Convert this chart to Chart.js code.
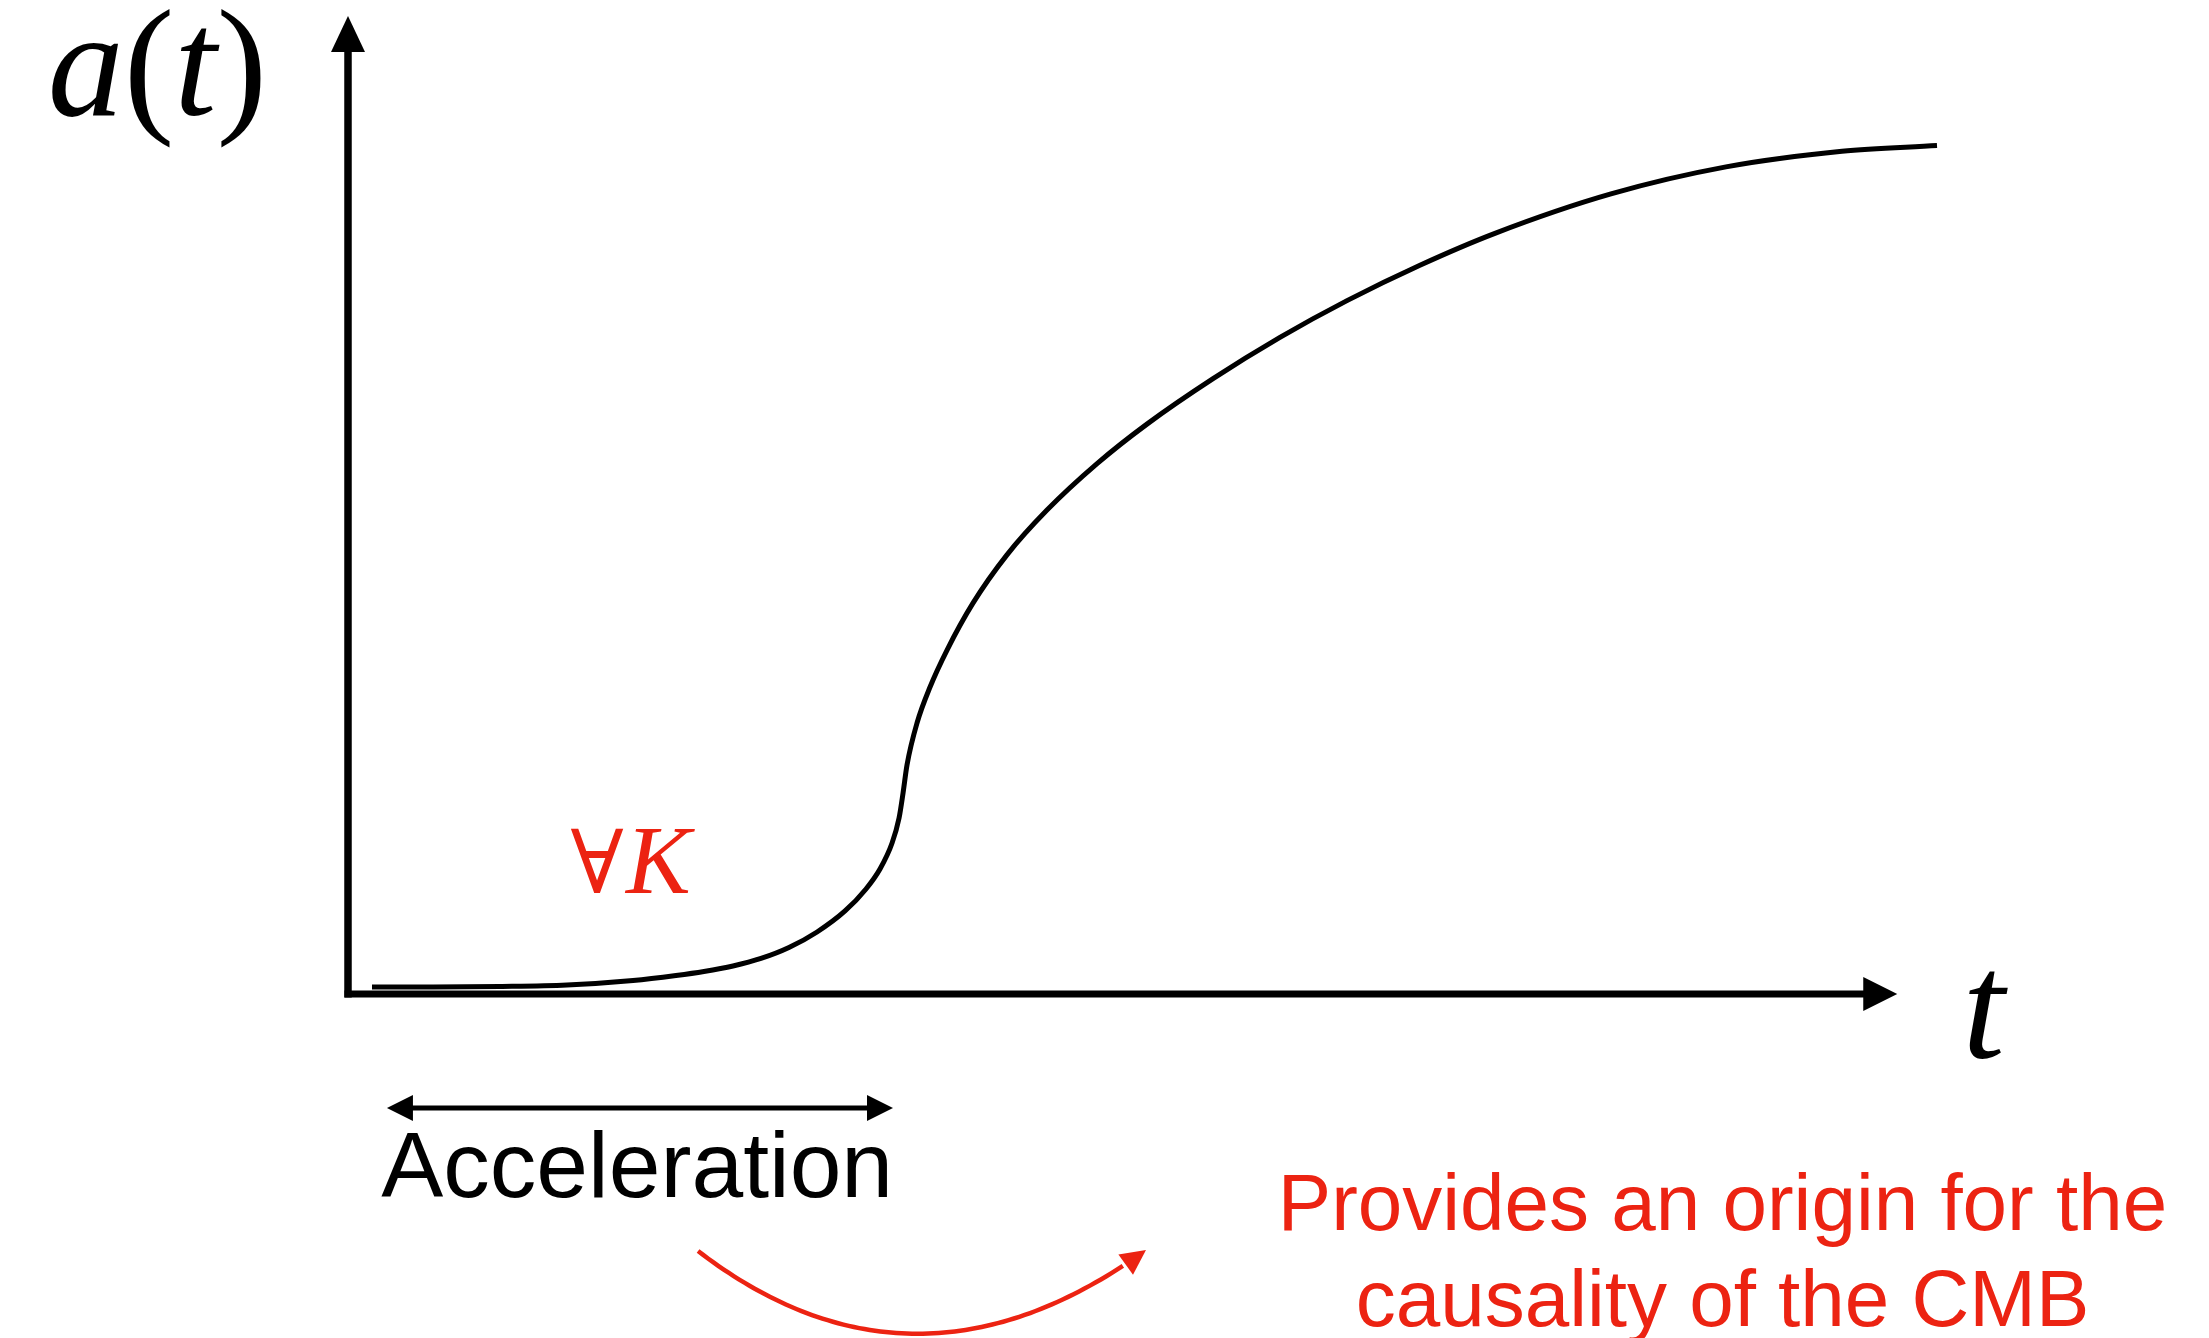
<!DOCTYPE html>
<html>
<head>
<meta charset="utf-8">
<title>a(t)</title>
<script src="https://cdn.jsdelivr.net/npm/chart.js@4/dist/chart.umd.min.js"></script>
<style>
  html, body { margin: 0; padding: 0; background: #ffffff; }
  canvas { display: block; }
</style>
</head>
<body>
<canvas id="chart" width="2209" height="1338"></canvas>
<script>
// Scale factor a(t) against time t (arbitrary units, axes run 0..100)
const tValues = [1.51, 5.35, 9.57, 13.78, 17.94, 20.64, 22.40, 24.23, 25.99, 27.75, 29.52, 31.28,
  32.60, 33.48, 34.24, 34.68, 34.93, 35.18, 35.81, 36.63, 37.70, 39.33, 41.47, 43.99, 47.14,
  50.28, 54.44, 58.65, 62.87, 67.46, 72.18, 79.48, 86.72, 94.02, 100.0];
const aValues = [0.72, 0.72, 0.77, 0.92, 1.38, 1.89, 2.30, 2.86, 3.63, 4.75, 6.34, 8.49,
  10.74, 12.78, 15.44, 18.00, 20.55, 23.42, 27.71, 31.39, 35.17, 39.96, 44.90, 49.48, 54.23,
  58.27, 62.92, 67.14, 70.90, 74.52, 77.78, 81.81, 84.57, 86.17, 86.76];

// Span of the accelerating phase along t
const accelerationSpan = [2.45, 34.3];

// Texts
const yTitleParts = [['a', true], ['(', false], ['t', true], [')', false]];
const xTitle = 't';
const curvatureLabel = ['\u2200', 'K'];
const phaseLabel = 'Acceleration';
const noteLines = ['Provides an origin for the', 'causality of the CMB'];

const RED = 'rgb(236, 35, 18)';
const SERIF = "'Liberation Serif', 'DejaVu Serif', serif";
const SANS = "'Liberation Sans', Arial, sans-serif";

function arrowHead(ctx, tipX, tipY, dirX, dirY, len, half) {
  const n = Math.hypot(dirX, dirY);
  const ux = dirX / n, uy = dirY / n;
  const bx = tipX - ux * len, by = tipY - uy * len;
  ctx.beginPath();
  ctx.moveTo(tipX, tipY);
  ctx.lineTo(bx - uy * half, by + ux * half);
  ctx.lineTo(bx + uy * half, by - ux * half);
  ctx.closePath();
  ctx.fill();
}

const diagram = {
  id: 'diagram',
  beforeDatasetsDraw(chart) {
    const ctx = chart.ctx;
    const xs = chart.scales.x, ys = chart.scales.y;
    const X = v => xs.getPixelForValue(v);
    const Y = v => ys.getPixelForValue(v);
    ctx.save();
    ctx.fillStyle = '#000';
    ctx.strokeStyle = '#000';
    ctx.lineCap = 'butt';

    // vertical axis
    const x0 = X(0), y0 = Y(0);
    ctx.lineWidth = 7.5;
    ctx.beginPath();
    ctx.moveTo(x0, y0 + 3.5);
    ctx.lineTo(x0, Y(100) + 30);
    ctx.stroke();
    arrowHead(ctx, x0, Y(100), 0, -1, 36, 17);

    // horizontal axis
    ctx.lineWidth = 7;
    ctx.beginPath();
    ctx.moveTo(x0 - 3.5, y0);
    ctx.lineTo(X(97.5) - 30, y0);
    ctx.stroke();
    arrowHead(ctx, X(97.5), y0, 1, 0, 34, 17);
    ctx.restore();
  },
  afterDraw(chart) {
    const ctx = chart.ctx;
    const xs = chart.scales.x, ys = chart.scales.y;
    const X = v => xs.getPixelForValue(v);
    const Y = v => ys.getPixelForValue(v);
    ctx.save();
    ctx.textBaseline = 'alphabetic';
    ctx.textAlign = 'left';

    // a(t) title
    ctx.fillStyle = '#000';
    let cx = X(-18.9);
    const titleY = Y(89.9);
    for (const [txt, italic] of yTitleParts) {
      ctx.font = (italic ? 'italic ' : '') + '152px ' + SERIF;
      ctx.fillText(txt, cx, titleY);
      cx += ctx.measureText(txt).width;
    }

    // t title
    ctx.font = 'italic 152px ' + SERIF;
    ctx.fillText(xTitle, X(101.6), Y(-6.5));

    // curvature label
    ctx.fillStyle = RED;
    ctx.font = '88px ' + SERIF;
    ctx.fillText(curvatureLabel[0], X(14.0), Y(10.3));
    ctx.font = 'italic 97px ' + SERIF;
    ctx.fillText(curvatureLabel[1], X(17.5), Y(10.3));

    // acceleration span with double arrow
    ctx.fillStyle = '#000';
    ctx.strokeStyle = '#000';
    ctx.lineWidth = 5;
    const ay = Y(-11.66);
    const ax1 = X(accelerationSpan[0]), ax2 = X(accelerationSpan[1]);
    ctx.beginPath();
    ctx.moveTo(ax1 + 20, ay);
    ctx.lineTo(ax2 - 20, ay);
    ctx.stroke();
    arrowHead(ctx, ax1, ay, -1, 0, 26, 13);
    arrowHead(ctx, ax2, ay, 1, 0, 26, 13);

    ctx.textAlign = 'center';
    ctx.font = '93px ' + SANS;
    ctx.fillText(phaseLabel, X(18.2), Y(-20.8));

    // red curved arrow (quadratic bend below the label)
    ctx.strokeStyle = RED;
    ctx.fillStyle = RED;
    ctx.lineWidth = 4.5;
    const p0 = [X(22.03), Y(-26.28)];
    const p1 = [X(35.62), Y(-43.25)];
    const p2 = [X(50.22), Y(-26.18)];
    const q = t => [
      (1 - t) * (1 - t) * p0[0] + 2 * (1 - t) * t * p1[0] + t * t * p2[0],
      (1 - t) * (1 - t) * p0[1] + 2 * (1 - t) * t * p1[1] + t * t * p2[1]
    ];
    ctx.beginPath();
    ctx.moveTo(p0[0], p0[1]);
    const tEnd = 0.95;
    for (let i = 1; i <= 80; i++) {
      const pt = q(tEnd * i / 80);
      ctx.lineTo(pt[0], pt[1]);
    }
    ctx.stroke();
    arrowHead(ctx, p2[0], p2[1], p2[0] - p1[0], p2[1] - p1[1], 25, 12.5);

    // note text
    ctx.font = '80px ' + SANS;
    ctx.fillText(noteLines[0], X(86.5), Y(-24.13));
    ctx.fillText(noteLines[1], X(86.5), Y(-33.95));
    ctx.restore();
  }
};

const points = tValues.map((t, i) => ({ x: t, y: aValues[i] }));

new Chart(document.getElementById('chart'), {
  type: 'line',
  data: {
    datasets: [{
      data: points,
      borderColor: '#000',
      borderWidth: 5,
      pointRadius: 0,
      fill: false,
      cubicInterpolationMode: 'monotone',
      clip: false
    }]
  },
  options: {
    responsive: false,
    animation: false,
    devicePixelRatio: 1,
    layout: { padding: { left: 348, right: 272, top: 16, bottom: 344 } },
    scales: {
      x: { type: 'linear', min: 0, max: 100, display: false },
      y: { type: 'linear', min: 0, max: 100, display: false }
    },
    plugins: { legend: { display: false }, tooltip: { enabled: false } }
  },
  plugins: [diagram]
});
</script>
</body>
</html>
